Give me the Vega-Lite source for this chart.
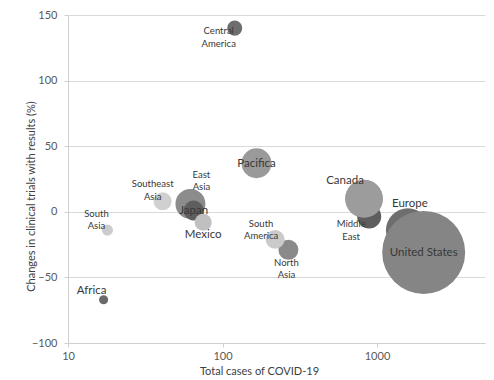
{
  "$schema": "https://vega.github.io/schema/vega-lite/v6.json",
  "autosize": "none",
  "width": 417,
  "height": 328,
  "padding": {"left": 68, "top": 15, "right": 9, "bottom": 37},
  "background": "white",
  "config": {
    "view": {"stroke": null},
    "font": "Lato",
    "text": {"font": "Lato", "color": "#383838"}
  },
  "data": {
    "values": [
      {"name": "Africa", "cases": 17, "change": -67, "weight": 1.2},
      {"name": "South Asia", "cases": 18, "change": -14, "weight": 1.8},
      {"name": "Southeast Asia", "cases": 41, "change": 8, "weight": 4.7},
      {"name": "East Asia", "cases": 62, "change": 6, "weight": 13},
      {"name": "Japan", "cases": 65, "change": 1, "weight": 5.8},
      {"name": "Mexico", "cases": 75, "change": -8, "weight": 4.2},
      {"name": "Central America", "cases": 120, "change": 140, "weight": 3.3},
      {"name": "Pacifica", "cases": 166, "change": 37, "weight": 13},
      {"name": "North Asia", "cases": 267, "change": -29, "weight": 5.8},
      {"name": "South America", "cases": 219, "change": -21, "weight": 5.2},
      {"name": "Middle East", "cases": 890, "change": -3.5, "weight": 8.4},
      {"name": "Canada", "cases": 824, "change": 10, "weight": 21},
      {"name": "Europe", "cases": 1585, "change": -14, "weight": 28},
      {"name": "United States", "cases": 2005, "change": -31, "weight": 100}
    ]
  },
  "encoding": {
    "x": {
      "field": "cases",
      "type": "quantitative",
      "scale": {"type": "log", "domain": [10, 5000], "nice": false},
      "axis": {
        "title": "Total cases of COVID-19",
        "values": [10, 100, 1000],
        "format": "d",
        "grid": false,
        "domainColor": "#d0d0d0",
        "tickColor": "#d0d0d0",
        "tickSize": 4,
        "labelFlush": false,
        "labelFontSize": 11,
        "labelColor": "#595959",
        "labelPadding": 3,
        "titleFontSize": 11,
        "titleFontWeight": "normal",
        "titleColor": "#404040",
        "titleX": 191,
        "titleAlign": "center",
        "titlePadding": 4
      }
    },
    "y": {
      "field": "change",
      "type": "quantitative",
      "scale": {"domain": [-100, 150], "nice": false},
      "axis": {
        "title": "Changes in clinical trials with results (%)",
        "values": [-100, -50, 0, 50, 100, 150],
        "grid": true,
        "gridColor": "#d9d9d9",
        "domainColor": "#d0d0d0",
        "tickColor": "#d0d0d0",
        "tickSize": 4,
        "labelFlush": false,
        "labelFontSize": 11,
        "labelColor": "#595959",
        "labelPadding": 7,
        "titleFontSize": 11,
        "titleFontWeight": "normal",
        "titleColor": "#404040",
        "titleX": -37,
        "titleY": 181,
        "titleAngle": 270,
        "titleAlign": "center",
        "titleBaseline": "middle"
      }
    }
  },
  "layer": [
    {
      "mark": {"type": "point", "shape": "circle", "filled": true, "opacity": 1, "strokeWidth": 0},
      "encoding": {
        "size": {
          "field": "weight",
          "type": "quantitative",
          "scale": {"type": "linear", "domain": [0, 100], "range": [0, 6889]},
          "legend": null
        },
        "color": {
          "field": "name",
          "type": "nominal",
          "legend": null,
          "scale": {
            "domain": ["Africa", "South Asia", "Southeast Asia", "East Asia", "Japan", "Mexico", "Central America", "Pacifica", "North Asia", "South America", "Middle East", "Canada", "Europe", "United States"],
            "range": ["#6a6a6a", "#cccccc", "#d0d0d0", "#8c8c8c", "#5e5e5e", "#c0c0c0", "#6e6e6e", "#9a9a9a", "#8a8a8a", "#cacaca", "#5e5e5e", "#9c9c9c", "#6e6e6e", "#858585"]
          }
        }
      }
    },
    {"transform": [{"filter": "datum.name === 'Central America'"}], "mark": {"type": "text", "fontSize": 9.5, "lineBreak": " ", "lineHeight": 12.5, "dx": -16, "dy": 3}, "encoding": {"text": {"field": "name"}}},
    {"transform": [{"filter": "datum.name === 'Southeast Asia'"}], "mark": {"type": "text", "fontSize": 9.5, "lineBreak": " ", "lineHeight": 12.5, "dx": -10, "dy": -17}, "encoding": {"text": {"field": "name"}}},
    {"transform": [{"filter": "datum.name === 'East Asia'"}], "mark": {"type": "text", "fontSize": 9.5, "lineBreak": " ", "lineHeight": 12.5, "dx": 11, "dy": -29}, "encoding": {"text": {"field": "name"}}},
    {"transform": [{"filter": "datum.name === 'South Asia'"}], "mark": {"type": "text", "fontSize": 9.5, "lineBreak": " ", "lineHeight": 12.5, "dx": -11, "dy": -16.5}, "encoding": {"text": {"field": "name"}}},
    {"transform": [{"filter": "datum.name === 'South America'"}], "mark": {"type": "text", "fontSize": 9.5, "lineBreak": " ", "lineHeight": 12.5, "dx": -14, "dy": -15.5}, "encoding": {"text": {"field": "name"}}},
    {"transform": [{"filter": "datum.name === 'North Asia'"}], "mark": {"type": "text", "fontSize": 9.5, "lineBreak": " ", "lineHeight": 12.5, "dx": -2, "dy": 13}, "encoding": {"text": {"field": "name"}}},
    {"transform": [{"filter": "datum.name === 'Middle East'"}], "mark": {"type": "text", "fontSize": 9.5, "lineBreak": " ", "lineHeight": 12.5, "dx": -18, "dy": 8}, "encoding": {"text": {"field": "name"}}},
    {"transform": [{"filter": "indexof(['Pacifica', 'Japan', 'United States'], datum.name) >= 0"}], "mark": {"type": "text", "fontSize": 11.5, "dy": 1}, "encoding": {"text": {"field": "name"}}},
    {"transform": [{"filter": "datum.name === 'Mexico'"}], "mark": {"type": "text", "fontSize": 11.5, "dy": 12.5}, "encoding": {"text": {"field": "name"}}},
    {"transform": [{"filter": "datum.name === 'Africa'"}], "mark": {"type": "text", "fontSize": 11.5, "dx": -12, "dy": -9}, "encoding": {"text": {"field": "name"}}},
    {"transform": [{"filter": "datum.name === 'Canada'"}], "mark": {"type": "text", "fontSize": 11.5, "dx": -19, "dy": -17.5}, "encoding": {"text": {"field": "name"}}},
    {"transform": [{"filter": "datum.name === 'Europe'"}], "mark": {"type": "text", "fontSize": 11.5, "dx": 2, "dy": -26}, "encoding": {"text": {"field": "name"}}}
  ]
}
